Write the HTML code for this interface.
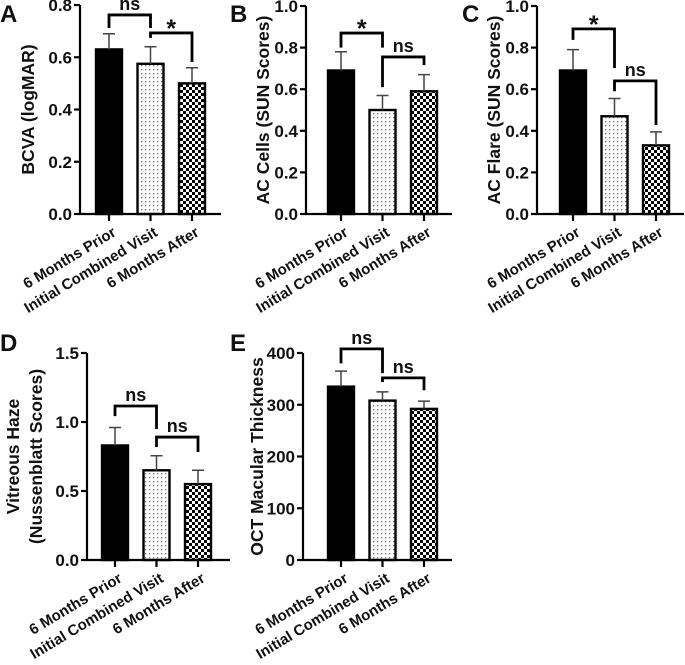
<!DOCTYPE html>
<html><head><meta charset="utf-8"><style>
html,body{margin:0;padding:0;background:#fff}
svg{display:block}
text{font-family:"Liberation Sans",Arial,sans-serif;font-weight:bold;fill:#111}
</style></head><body>
<svg id="fig" width="685" height="665" viewBox="0 0 685 665" xmlns="http://www.w3.org/2000/svg">
<defs>
<pattern id="dots" width="4" height="4" patternUnits="userSpaceOnUse"><rect width="4" height="4" fill="#fff"/><rect x="1" y="1" width="1.3" height="1.3" fill="#777"/></pattern>
<pattern id="checker" width="6" height="6" patternUnits="userSpaceOnUse"><rect width="6" height="6" fill="#fff"/><rect width="3" height="3" fill="#000"/><rect x="3" y="3" width="3" height="3" fill="#000"/></pattern>
</defs>
</svg>
<script>
const categories = ["6 Months Prior","Initial Combined Visit","6 Months After"];
const meansA = [0.63,0.575,0.50], errA = [0.69,0.64,0.56];
const meansB = [0.69,0.50,0.59], errB = [0.78,0.57,0.67];
const meansC = [0.69,0.47,0.33], errC = [0.79,0.555,0.395];
const meansD = [0.83,0.65,0.55], errD = [0.96,0.755,0.65];
const meansE = [335,308,292], errE = [365,325,307];
const ticksA = ["0.0","0.2","0.4","0.6","0.8"];
const ticksB = ["0.0","0.2","0.4","0.6","0.8","1.0"];
const ticksC = ["0.0","0.2","0.4","0.6","0.8","1.0"];
const ticksD = ["0.0","0.5","1.0","1.5"];
const ticksE = ["0","100","200","300","400"];
// brackets: [fromBar, toBar, top, leftLegEnd, rightLegEnd, label]
const bracketsA = [[0,1,0.762,0.712,0.712,"ns"],[1,2,0.693,0.674,0.582,"*"]];
const bracketsB = [[0,1,0.87,0.80,0.80,"*"],[1,2,0.755,0.61,0.716,"ns"]];
const bracketsC = [[0,1,0.89,0.837,0.702,"*"],[1,2,0.64,0.59,0.428,"ns"]];
const bracketsD = [[0,1,1.116,1.043,0.949,"ns"],[1,2,0.891,0.819,0.783,"ns"]];
const bracketsE = [[0,1,408,380,361,"ns"],[1,2,352,344,328,"ns"]];

const NS="http://www.w3.org/2000/svg";
const svg=document.getElementById('fig');
function mk(tag,attrs,parent){const e=document.createElementNS(NS,tag);for(const k in attrs)e.setAttribute(k,attrs[k]);(parent||svg).appendChild(e);return e;}
const fills=["#000","url(#dots)","url(#checker)"];

function panel(cfg){
  const g=mk('g',{});
  
  
  const maxV=parseFloat(cfg.ticks[cfg.ticks.length-1]);
  const y=v=>cfg.y0-(v/maxV)*(cfg.y0-cfg.yTop);
  const x=i=>cfg.c0+i*41.5;
  const L=mk('text',{x:cfg.lx,y:cfg.ly,'font-size':24},g);L.textContent=cfg.id;
  
  
  cfg.means.forEach((m,i)=>{
    const b=mk('rect',{x:x(i)-13,y:y(m),width:26,height:cfg.y0-y(m),fill:fills[i],stroke:'#000','stroke-width':2.4},g);
    
    
    const e=mk('path',{d:`M${x(i)} ${y(m)}V${y(cfg.err[i])}M${x(i)-6} ${y(cfg.err[i])}H${x(i)+6}`,stroke:'#444','stroke-width':1.5,fill:'none'},g);
    
    
  });
  const ax=mk('path',{d:`M${cfg.ax} ${cfg.yTop}V${cfg.y0}H${cfg.axEnd}`,stroke:'#000','stroke-width':2.2,fill:'none'},g);
  
  
  cfg.ticks.forEach(t=>{
    const yy=y(parseFloat(t));
    mk('line',{x1:cfg.ax-6,x2:cfg.ax,y1:yy,y2:yy,stroke:'#000','stroke-width':2.2},g);
    const tl=mk('text',{x:cfg.ax-8,y:yy+6,'font-size':17,'text-anchor':'end'},g);tl.textContent=t;
    
    
  });
  categories.forEach((c,i)=>{
    mk('line',{x1:x(i),x2:x(i),y1:cfg.y0,y2:cfg.y0+7,stroke:'#000','stroke-width':2.2},g);
    const tl=mk('text',{x:0,y:0,'font-size':15,'text-anchor':'end',transform:`translate(${x(i)+8},${cfg.y0+21}) rotate(-31)`},g);tl.textContent=c;
    
    
  });
  const ym=(cfg.y0+cfg.yTop)/2;
  cfg.title.forEach((t,k)=>{
    const tt=mk('text',{x:0,y:0,'font-size':17.5,'text-anchor':'middle',transform:`translate(${cfg.tx+k*23},${ym}) rotate(-90)`},g);tt.textContent=t;
    
    
  });
  cfg.brackets.forEach(br=>{
    const [a,b,top,l,r,lab]=br;
    const p=mk('path',{d:`M${x(a)} ${y(l)}V${y(top)}H${x(b)}V${y(r)}`,stroke:'#000','stroke-width':2.8,fill:'none'},g);
    
    
    const s=mk('text',{x:(x(a)+x(b))/2,y:y(top)-(lab==='*'?-4:5),'font-size':lab==='*'?25:18,'text-anchor':'middle'},g);s.textContent=lab;
    
    
  });
}
panel({id:'A',lx:0,ly:22,ax:80,axEnd:221,yTop:5,y0:214,c0:109,means:meansA,err:errA,ticks:ticksA,brackets:bracketsA,title:['BCVA (logMAR)'],tx:34});
panel({id:'B',lx:230,ly:22,ax:306,axEnd:452,yTop:6,y0:214,c0:341,means:meansB,err:errB,ticks:ticksB,brackets:bracketsB,title:['AC Cells (SUN Scores)'],tx:269});
panel({id:'C',lx:462,ly:22,ax:537,axEnd:684,yTop:6,y0:214,c0:573,means:meansC,err:errC,ticks:ticksC,brackets:bracketsC,title:['AC Flare (SUN Scores)'],tx:500});
panel({id:'D',lx:0,ly:351,ax:87,axEnd:230,yTop:353,y0:560,c0:115,means:meansD,err:errD,ticks:ticksD,brackets:bracketsD,title:['Vitreous Haze','(Nussenblatt Scores)'],tx:19});
panel({id:'E',lx:230,ly:351,ax:303,axEnd:452,yTop:353,y0:560,c0:341,means:meansE,err:errE,ticks:ticksE,brackets:bracketsE,title:['OCT Macular Thickness'],tx:263});
</script>
</body></html>
